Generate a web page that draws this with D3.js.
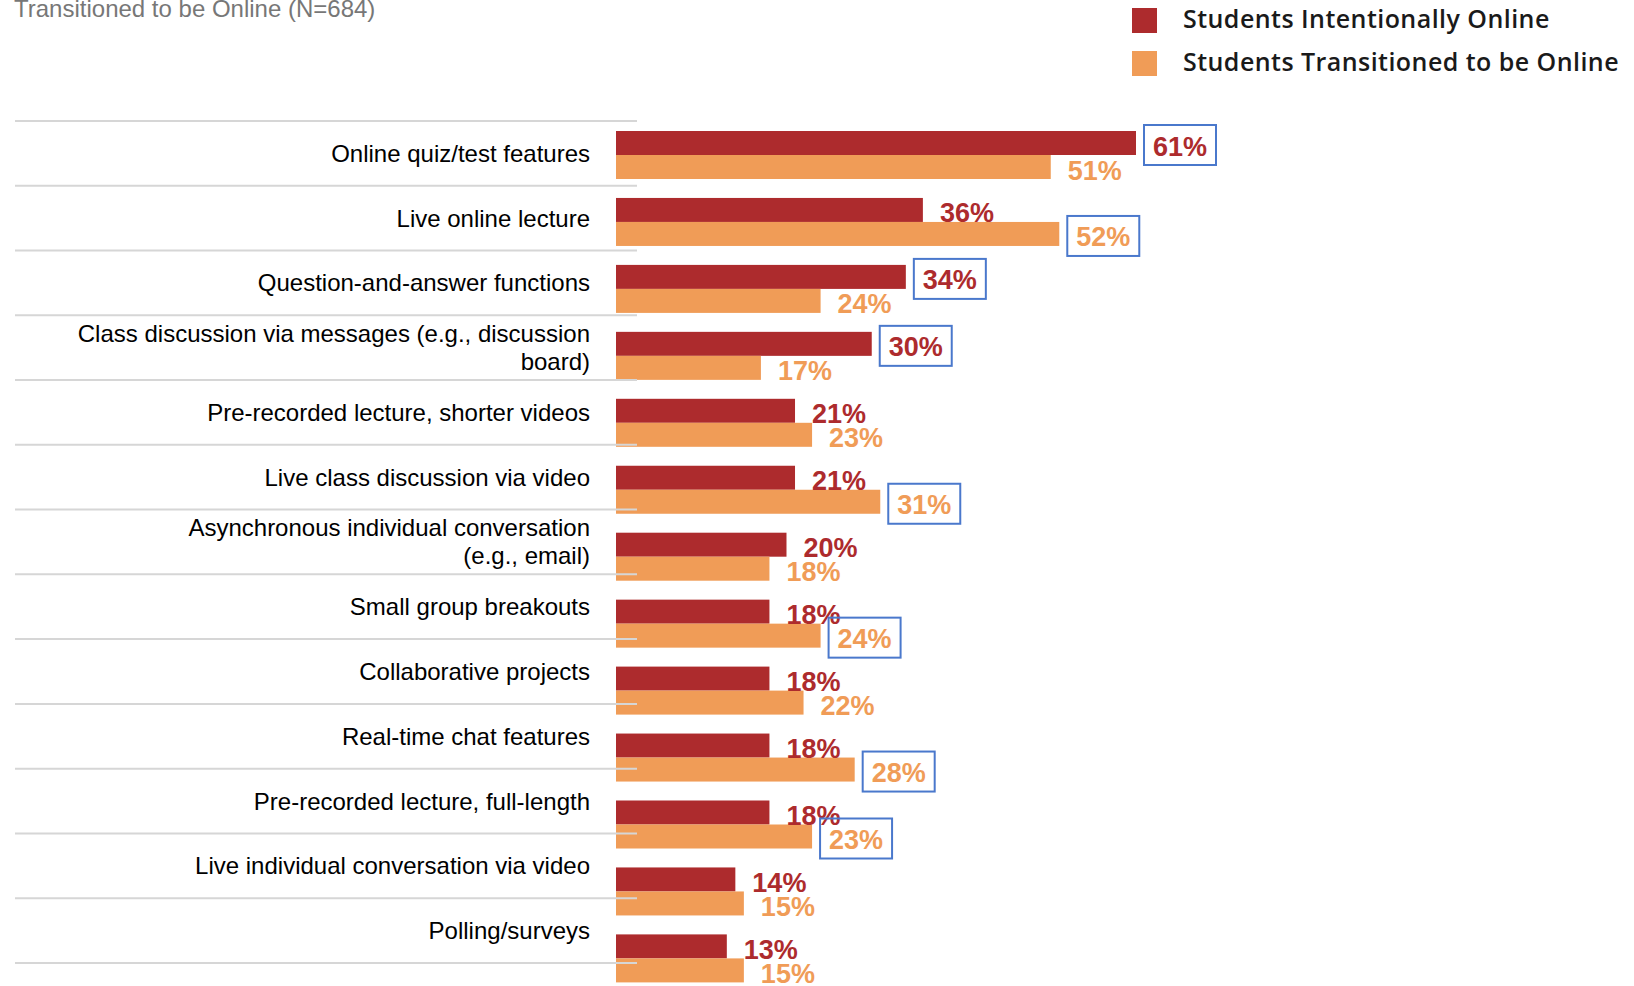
<!DOCTYPE html>
<meta charset="UTF-8">
<svg width="1634" height="986"></svg>
<style>
body { margin: 0; background: #fff; }
svg { display: block; }
.cat { font-family: "Liberation Sans", Arial, sans-serif; font-size: 24px; fill: #000; }
.val { font-family: "Liberation Sans", Arial, sans-serif; font-size: 27px; font-weight: bold; }
.legend { font-family: "Open Sans", sans-serif; font-size: 25px; font-weight: 600; fill: #1a1a1a; letter-spacing: 0.45px; }
.grid { stroke: #d6d6d6; stroke-width: 2px; }
.hl { fill: none; stroke: #4a78cc; stroke-width: 2px; }
</style>
<script src="https://d3js.org/d3.v7.min.js"></script>
<script>
var categories = [
  "Online quiz/test features",
  "Live online lecture",
  "Question-and-answer functions",
  "Class discussion via messages (e.g., discussion|board)",
  "Pre-recorded lecture, shorter videos",
  "Live class discussion via video",
  "Asynchronous individual conversation|(e.g., email)",
  "Small group breakouts",
  "Collaborative projects",
  "Real-time chat features",
  "Pre-recorded lecture, full-length",
  "Live individual conversation via video",
  "Polling/surveys"
]
var intentional = [61, 36, 34, 30, 21, 21, 20, 18, 18, 18, 18, 14, 13]
var transitioned = [51, 52, 24, 17, 23, 31, 18, 24, 22, 28, 23, 15, 15]
// which label of the pair gets the blue box: "i", "t" or ""
var boxed = ["i", "t", "i", "i", "", "t", "", "t", "", "t", "t", "", ""]
var seriesNames = ["Students Intentionally Online", "Students Transitioned to be Online"]
var subtitle = "Transitioned to be Online (N=684)"

var colors = ["#ad2b2d", "#f09c57"]

var svg = d3.select("svg")

var x = d3.scaleLinear().domain([0, 61]).range([616, 1136])

var yBar = d3.scaleBand().domain(categories).range([131, 982.4]).paddingInner(0.283).paddingOuter(0)
var ySeries = d3.scaleBand().domain(["i", "t"]).range([0, yBar.bandwidth()])
var yLab = d3.scaleBand().domain(categories).range([120.9, 963])

var rows = categories.map((c, i) => ({
  cat: c,
  vals: [{k: "i", v: intentional[i], c: colors[0]}, {k: "t", v: transitioned[i], c: colors[1]}],
  box: boxed[i]
}))

// subtitle (cut at top in the original)
svg.append("text")
  .attr("x", 14).attr("y", 17)
  .style("font-family", "Liberation Sans, Arial, sans-serif")
  .style("font-size", "24px")
  .style("fill", "#777")
  .text(subtitle)

// legend
var lg = svg.append("g")
lg.selectAll("rect")
  .data(seriesNames)
  .enter().append("rect")
  .attr("x", 1132).attr("y", (d, i) => 8 + i * 43)
  .attr("width", 25).attr("height", 25)
  .style("fill", (d, i) => colors[i])
lg.selectAll("text")
  .data(seriesNames)
  .enter().append("text")
  .attr("class", "legend")
  .attr("x", 1183).attr("y", (d, i) => 28 + i * 43)
  .text(d => d)

// bars
var g = svg.append("g").selectAll("g")
  .data(rows)
  .enter().append("g")
  .attr("transform", d => "translate(0," + yBar(d.cat) + ")")

g.selectAll("rect")
  .data(d => d.vals)
  .enter().append("rect")
  .attr("x", x(0))
  .attr("y", d => ySeries(d.k))
  .attr("width", d => x(d.v) - x(0))
  .attr("height", ySeries.bandwidth())
  .style("fill", d => d.c)

g.each(function(row) {
  var gg = d3.select(this)
  row.vals.forEach(d => {
    var tx = x(d.v) + 17
    var base = ySeries(d.k) + ySeries.bandwidth() + 0.5
    if (row.box == d.k) {
      gg.append("rect")
        .attr("class", "hl")
        .attr("x", tx - 9)
        .attr("y", base - 30.5)
        .attr("width", 72)
        .attr("height", 40)
    }
    gg.append("text")
      .attr("class", "val")
      .attr("x", tx)
      .attr("y", base)
      .style("fill", d.c)
      .text(d.v + "%")
  })
})

// gridlines (drawn over the bars, like the original)
var lines = categories.map(c => yLab(c)).concat([yLab.range()[1]])
svg.append("g").selectAll("line")
  .data(lines)
  .enter().append("line")
  .attr("class", "grid")
  .attr("x1", 15).attr("x2", 637)
  .attr("y1", d => d).attr("y2", d => d)

// category labels
var lab = svg.append("g").selectAll("text")
  .data(categories)
  .enter().append("text")
  .attr("class", "cat")
  .attr("text-anchor", "end")
  .attr("transform", d => "translate(590," + (yLab(d) + yLab.bandwidth() / 2) + ")")

lab.each(function(d) {
  var parts = d.split("|")
  var t = d3.select(this)
  parts.forEach((p, i) => {
    t.append("tspan")
      .attr("x", 0)
      .attr("y", (i - (parts.length - 1) / 2) * 28 + 8.5)
      .text(p)
  })
})
</script>
